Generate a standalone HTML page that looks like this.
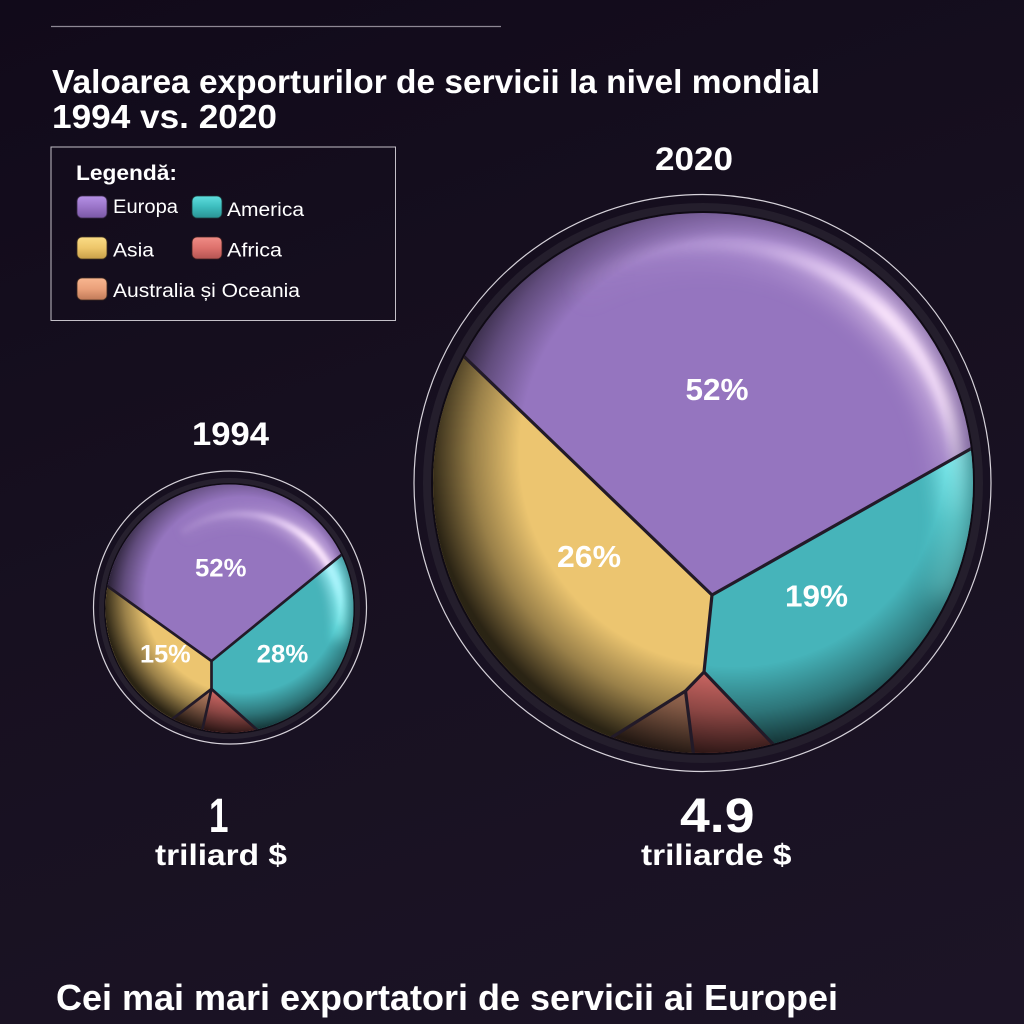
<!DOCTYPE html>
<html>
<head>
<meta charset="utf-8">
<style>
  html, body { margin:0; padding:0; }
  body { width:1024px; height:1024px; overflow:hidden;
         background: linear-gradient(160deg, #110a1a 0%, #171020 45%, #1c1426 100%); }
  svg { display:block; }
  text { font-family: "Liberation Sans", Arial, sans-serif; fill:#ffffff; }
  .b { font-weight:bold; }
</style>
</head>
<body>
<svg width="1024" height="1024" viewBox="0 0 1024 1024" xmlns="http://www.w3.org/2000/svg">
  <defs>
    <clipPath id="cBig"><circle cx="703" cy="483" r="270"/></clipPath>
    <clipPath id="cSmall"><circle cx="229.5" cy="608.5" r="124"/></clipPath>
    <clipPath id="cTealBig"><path d="M712,595 L1098,377 L1098,884 L907,884 L704,672 Z"/></clipPath>
    <clipPath id="cTealSmall"><path d="M211.5,661 L468.5,451 L468.5,803 L339,803 L211.5,689 Z"/></clipPath>

    <radialGradient id="shBig" gradientUnits="userSpaceOnUse" cx="733" cy="453" r="305">
      <stop offset="0" stop-color="#000" stop-opacity="0"/>
      <stop offset="0.7" stop-color="#000" stop-opacity="0"/>
      <stop offset="0.85" stop-color="#000" stop-opacity="0.35"/>
      <stop offset="1" stop-color="#000" stop-opacity="0.82"/>
    </radialGradient>
    <radialGradient id="shSmall" gradientUnits="userSpaceOnUse" cx="243" cy="595" r="140">
      <stop offset="0" stop-color="#000" stop-opacity="0"/>
      <stop offset="0.7" stop-color="#000" stop-opacity="0"/>
      <stop offset="0.85" stop-color="#000" stop-opacity="0.35"/>
      <stop offset="1" stop-color="#000" stop-opacity="0.82"/>
    </radialGradient>

    <linearGradient id="hlBig" gradientUnits="userSpaceOnUse" x1="590" y1="240" x2="965" y2="520">
      <stop offset="0" stop-color="#f0d8ff" stop-opacity="0"/>
      <stop offset="0.3" stop-color="#f0d8ff" stop-opacity="0.35"/>
      <stop offset="0.6" stop-color="#ffeaff" stop-opacity="1"/>
      <stop offset="0.82" stop-color="#ffeaff" stop-opacity="0.75"/>
      <stop offset="1" stop-color="#ffffff" stop-opacity="0"/>
    </linearGradient>
    <linearGradient id="hlSmall" gradientUnits="userSpaceOnUse" x1="180" y1="510" x2="348" y2="632">
      <stop offset="0" stop-color="#f0d8ff" stop-opacity="0"/>
      <stop offset="0.3" stop-color="#f0d8ff" stop-opacity="0.35"/>
      <stop offset="0.6" stop-color="#ffeaff" stop-opacity="1"/>
      <stop offset="0.82" stop-color="#ffeaff" stop-opacity="0.75"/>
      <stop offset="1" stop-color="#ffffff" stop-opacity="0"/>
    </linearGradient>

    <filter id="blurBig" filterUnits="userSpaceOnUse" x="400" y="180" width="620" height="620">
      <feGaussianBlur stdDeviation="5"/>
    </filter>
    <filter id="blurBig2" filterUnits="userSpaceOnUse" x="400" y="180" width="620" height="620">
      <feGaussianBlur stdDeviation="12"/>
    </filter>
    <filter id="blurSmall" filterUnits="userSpaceOnUse" x="90" y="470" width="290" height="290">
      <feGaussianBlur stdDeviation="2.5"/>
    </filter>
    <filter id="blurSmall2" filterUnits="userSpaceOnUse" x="90" y="470" width="290" height="290">
      <feGaussianBlur stdDeviation="6"/>
    </filter>

    <linearGradient id="swE" x1="0" y1="0" x2="0" y2="1">
      <stop offset="0" stop-color="#b591e6"/><stop offset="0.5" stop-color="#9a74c8"/><stop offset="1" stop-color="#7a58a6"/>
    </linearGradient>
    <linearGradient id="swA" x1="0" y1="0" x2="0" y2="1">
      <stop offset="0" stop-color="#5fdede"/><stop offset="0.5" stop-color="#3cbcbd"/><stop offset="1" stop-color="#2a9394"/>
    </linearGradient>
    <linearGradient id="swY" x1="0" y1="0" x2="0" y2="1">
      <stop offset="0" stop-color="#fbdc86"/><stop offset="0.5" stop-color="#edc66a"/><stop offset="1" stop-color="#c89f48"/>
    </linearGradient>
    <linearGradient id="swF" x1="0" y1="0" x2="0" y2="1">
      <stop offset="0" stop-color="#f08c86"/><stop offset="0.5" stop-color="#dd716c"/><stop offset="1" stop-color="#b45452"/>
    </linearGradient>
    <linearGradient id="swO" x1="0" y1="0" x2="0" y2="1">
      <stop offset="0" stop-color="#f8b690"/><stop offset="0.5" stop-color="#eaa07a"/><stop offset="1" stop-color="#c07a58"/>
    </linearGradient>
  </defs>

  <!-- top rule -->
  <line x1="51" y1="26.5" x2="501" y2="26.5" stroke="#8e8894" stroke-width="1.2"/>

  <!-- title -->
  <text class="b" x="52" y="93" font-size="33" textLength="768" lengthAdjust="spacingAndGlyphs">Valoarea exporturilor de servicii la nivel mondial</text>
  <text class="b" x="52" y="128" font-size="33" textLength="225" lengthAdjust="spacingAndGlyphs">1994 vs. 2020</text>

  <!-- legend -->
  <rect x="51" y="147" width="344.5" height="173.5" fill="none" stroke="#c4c0c8" stroke-width="1"/>
  <text class="b" x="76" y="180" font-size="21" textLength="101" lengthAdjust="spacingAndGlyphs">Legendă:</text>

  <rect x="77" y="196" width="30" height="22" rx="5" fill="url(#swE)" stroke="#3a2a4a" stroke-width="0.8"/>
  <text x="113" y="213" font-size="19" textLength="65" lengthAdjust="spacingAndGlyphs">Europa</text>
  <rect x="192" y="196" width="30" height="22" rx="5" fill="url(#swA)" stroke="#1c3a3a" stroke-width="0.8"/>
  <text x="227" y="216" font-size="19" textLength="77" lengthAdjust="spacingAndGlyphs">America</text>

  <rect x="77" y="237" width="30" height="22" rx="5" fill="url(#swY)" stroke="#3e3020" stroke-width="0.8"/>
  <text x="113" y="256.5" font-size="19" textLength="41" lengthAdjust="spacingAndGlyphs">Asia</text>
  <rect x="192" y="237" width="30" height="22" rx="5" fill="url(#swF)" stroke="#3e2020" stroke-width="0.8"/>
  <text x="227" y="256.5" font-size="19" textLength="55" lengthAdjust="spacingAndGlyphs">Africa</text>

  <rect x="77" y="278" width="30" height="22" rx="5" fill="url(#swO)" stroke="#3e2a20" stroke-width="0.8"/>
  <text x="113" y="297" font-size="19" textLength="187" lengthAdjust="spacingAndGlyphs">Australia și Oceania</text>

  <!-- year headers -->
  <text class="b" x="655" y="170" font-size="32" textLength="78" lengthAdjust="spacingAndGlyphs">2020</text>
  <text class="b" x="192" y="445" font-size="32" textLength="77" lengthAdjust="spacingAndGlyphs">1994</text>

  <!-- ===== BIG PIE ===== -->
  <circle cx="702.5" cy="483" r="288.5" fill="none" stroke="#d6d2da" stroke-width="1.2"/>
  <circle cx="703" cy="483" r="280" fill="#241e2c"/>
  <circle cx="703" cy="483" r="272" fill="#0f0a14"/>
  <g clip-path="url(#cBig)">
    <path d="M712,595 L1098,377 L1098,150 L300,150 L342.3,239.5 Z" fill="#9575bf"/>
    <path d="M712,595 L1098,377 L1098,884 L907,884 L704,672 Z" fill="#46b4ba"/>
    <path d="M712,595 L342.3,239.5 L300,239.5 L300,828 L467.4,828 L685.5,691 L704,672 Z" fill="#ecc570"/>
    <path d="M685.5,691 L467.4,828 L467.4,880 L709.4,880 Z" fill="#c8896a"/>
    <path d="M685.5,691 L709.4,880 L709.4,884 L907,884 L704,672 Z" fill="#d76c68"/>
    <!-- highlight -->
    <path d="M571.3,288.7 A247,247 0 0 1 959.1,512.5" fill="none" stroke="url(#hlBig)" stroke-width="44" opacity="0.5" filter="url(#blurBig2)"/>
    <path d="M571.3,288.7 A247,247 0 0 1 959.1,512.5" fill="none" stroke="url(#hlBig)" stroke-width="13" filter="url(#blurBig)"/>
    <g clip-path="url(#cTealBig)">
      <path d="M930,400 A247,247 0 0 1 945,600" fill="none" stroke="#80ffff" stroke-width="30" opacity="0.75" filter="url(#blurBig2)"/>
    </g>
    <!-- rim shading -->
    <circle cx="703" cy="483" r="271" fill="url(#shBig)"/>
    <!-- separators -->
    <g fill="none" stroke="#221a28" stroke-width="3.2" stroke-linejoin="round">
      <path d="M342.3,239.5 L712,595 L1098,377"/>
      <path d="M712,595 L704,672"/>
      <path d="M704,672 L907,884"/>
      <path d="M704,672 L685.5,691"/>
      <path d="M685.5,691 L467.4,828"/>
      <path d="M685.5,691 L709.4,880"/>
    </g>
  </g>
  <text class="b" x="685.5" y="400" font-size="31" textLength="63" lengthAdjust="spacingAndGlyphs">52%</text>
  <text class="b" x="557" y="567" font-size="31" textLength="64" lengthAdjust="spacingAndGlyphs">26%</text>
  <text class="b" x="785" y="606.5" font-size="31" textLength="63" lengthAdjust="spacingAndGlyphs">19%</text>

  <!-- ===== SMALL PIE ===== -->
  <circle cx="230" cy="607.5" r="136.5" fill="none" stroke="#d6d2da" stroke-width="1.2"/>
  <circle cx="229.5" cy="608.5" r="130.5" fill="#26202e"/>
  <circle cx="229.5" cy="608.5" r="125.5" fill="#0f0a14"/>
  <g clip-path="url(#cSmall)">
    <path d="M211.5,661 L468.5,451 L468.5,400 L0,400 L5.1,512.4 Z" fill="#9575bf"/>
    <path d="M211.5,661 L468.5,451 L468.5,803 L339,803 L211.5,689 Z" fill="#46b4ba"/>
    <path d="M211.5,661 L5.1,512.4 L0,512.4 L0,773 L102,773 L211.5,689 Z" fill="#ecc570"/>
    <path d="M211.5,689 L102,773 L102,801.5 L186,801.5 Z" fill="#c8896a"/>
    <path d="M211.5,689 L186,801.5 L186,803 L339,803 Z" fill="#d76c68"/>
    <path d="M181.5,532.4 A102,102 0 0 1 341.6,624.9" fill="none" stroke="url(#hlSmall)" stroke-width="20" opacity="0.5" filter="url(#blurSmall2)"/>
    <path d="M181.5,532.4 A102,102 0 0 1 341.6,624.9" fill="none" stroke="url(#hlSmall)" stroke-width="7" filter="url(#blurSmall)"/>
    <g clip-path="url(#cTealSmall)">
      <path d="M325,560 A102,102 0 0 1 340,640" fill="none" stroke="#80ffff" stroke-width="14" opacity="0.75" filter="url(#blurSmall2)"/>
    </g>
    <circle cx="229.5" cy="608.5" r="124" fill="url(#shSmall)"/>
    <g fill="none" stroke="#221a28" stroke-width="2.7" stroke-linejoin="round">
      <path d="M5.1,512.4 L211.5,661 L468.5,451"/>
      <path d="M211.5,661 L211.5,689"/>
      <path d="M211.5,689 L102,773"/>
      <path d="M211.5,689 L186,801.5"/>
      <path d="M211.5,689 L339,803"/>
    </g>
  </g>
  <text class="b" x="195" y="576.7" font-size="25" textLength="51.5" lengthAdjust="spacingAndGlyphs">52%</text>
  <text class="b" x="140" y="662.7" font-size="25" textLength="50.7" lengthAdjust="spacingAndGlyphs">15%</text>
  <text class="b" x="256.7" y="662.7" font-size="25" textLength="51.6" lengthAdjust="spacingAndGlyphs">28%</text>

  <!-- totals -->
  <text class="b" x="209" y="832" font-size="48" textLength="19.5" lengthAdjust="spacingAndGlyphs">1</text>
  <text class="b" x="155" y="865" font-size="30" textLength="132" lengthAdjust="spacingAndGlyphs">triliard $</text>
  <text class="b" x="680" y="832" font-size="48" textLength="74.5" lengthAdjust="spacingAndGlyphs">4.9</text>
  <text class="b" x="641" y="865" font-size="30" textLength="150.5" lengthAdjust="spacingAndGlyphs">triliarde $</text>

  <!-- bottom heading -->
  <text class="b" x="56" y="1010" font-size="36" textLength="782" lengthAdjust="spacingAndGlyphs">Cei mai mari exportatori de servicii ai Europei</text>
</svg>
</body>
</html>
